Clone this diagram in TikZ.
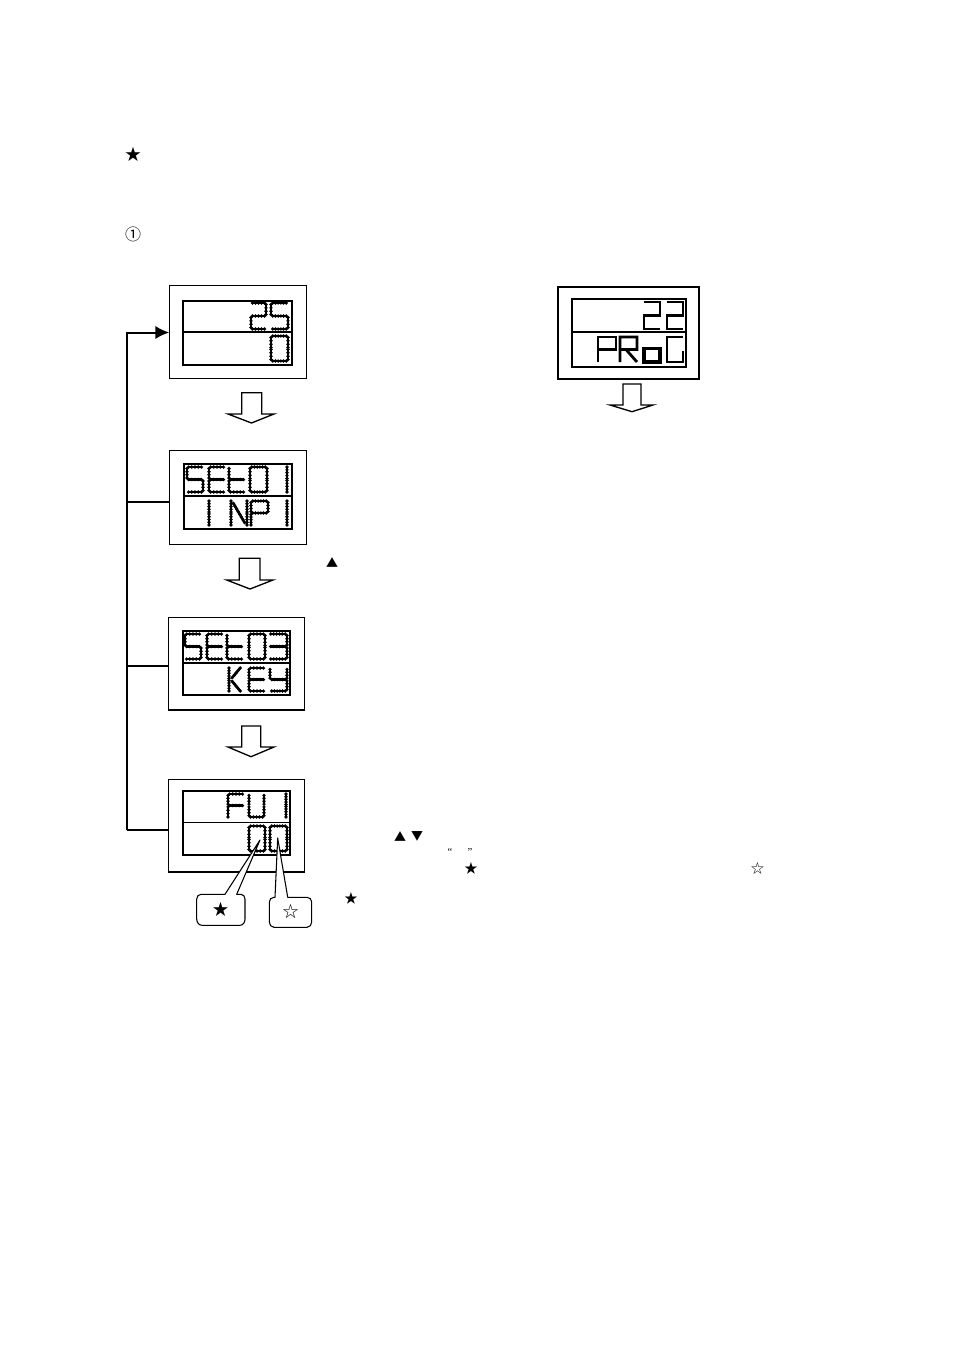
\documentclass[tikz,border=0pt]{standalone}
\usepackage{fontspec}
\setmainfont{DejaVu Sans}
\newfontfamily\quotefont{Liberation Serif}
\newfontfamily\cjk{Noto Sans CJK SC}
\usetikzlibrary{fit,arrows.meta}
\tikzset{
  outerbox/.style={draw,rectangle,inner sep=0pt,outer sep=0pt,line width=0.8pt},
  lcdbox/.style={draw,rectangle,inner sep=0pt,outer sep=0pt,line width=1.5pt},
  divider/.style={line width=#1},
  segcore/.style={line width=1.9pt},
  solidseg/.style={line width=2.1pt,line join=miter},
  hollow/.style={draw,line width=1pt,fill=white,line join=miter},
  flow/.style={line width=1.5pt},
  flowthin/.style={line width=1.3pt},
  call/.style={draw,line width=0.8pt,line join=round},
  sym/.style={inner sep=0pt,outer sep=0pt,text=black,font=\cjk},
}
% dotted LCD glyph: x1 x2 y1 y2 list of fractional segments a/b/c/d
\newcommand\glyph[5]{%
  \foreach \a/\b/\c/\d in #5 {%
    \pgfmathsetmacro\xa{#1+(#2-#1)*\a}\pgfmathsetmacro\ya{#3+(#4-#3)*\b}%
    \pgfmathsetmacro\xb{#1+(#2-#1)*\c}\pgfmathsetmacro\yb{#3+(#4-#3)*\d}%
    \pgfmathsetmacro\seglen{veclen(\xb-\xa,\yb-\ya)}%
    \pgfmathtruncatemacro\nd{max(1,round(\seglen/3))}%
    \draw[segcore] (\xa,\ya) -- (\xb,\yb);
    \foreach \k in {0,...,\nd} {%
      \pgfmathsetmacro\xp{\xa+(\xb-\xa)*\k/\nd}\pgfmathsetmacro\yp{\ya+(\yb-\ya)*\k/\nd}%
      \fill (\xp,\yp) circle[radius=1.85];
    }%
  }}
\newcommand\sglyph[6]{%
  \pgfmathsetmacro\gw{(#2-#1)*0.75}\pgfmathsetmacro\gh{(#4-#3)*0.75}%
  \begin{scope}[shift={(#1,#3)},x=\gw pt,y=-\gh pt]\draw[#5] #6;\end{scope}}
\newcommand\gZero{.1/0/.9/0,1/.06/1/.46,1/.54/1/.94,.9/1/.1/1,0/.94/0/.54,0/.46/0/.06}
\newcommand\gOne{1/0/1/.46,1/.54/1/1}
\newcommand\gTwo{.1/0/.9/0,1/.06/1/.44,.9/.5/.1/.5,0/.56/0/.94,.1/1/.9/1}
\newcommand\gThree{.1/0/.9/0,1/.06/1/.44,1/.56/1/.94,.9/1/.1/1,.1/.5/.9/.5}
\newcommand\gFive{.9/0/.1/0,0/.06/0/.44,.1/.5/.9/.5,1/.56/1/.94,.9/1/.1/1}
\newcommand\gE{.9/0/.1/0,0/.06/0/.44,0/.56/0/.94,.1/1/.9/1,.1/.5/.9/.5}
\newcommand\gT{0/.06/0/.44,0/.56/0/.94,.1/1/.9/1,.1/.5/.9/.5}
\newcommand\gN{0/1/0/.54,0/.46/0/0,.15/.1/.85/.9,1/1/1/.54,1/.46/1/0}
\newcommand\gP{0/1/0/.56,0/.44/0/.06,.1/0/.9/0,1/.06/1/.44,.9/.5/.1/.5}
\newcommand\gK{0/0/0/.46,0/.54/0/1,.2/.42/.7/0,.2/.58/.7/1}
\newcommand\gY{0/.06/0/.44,.1/.5/.9/.5,1/.06/1/.44,1/.56/1/.94,.9/1/.1/1}
\newcommand\gF{.9/0/.1/0,0/.06/0/.44,0/.56/0/1,.1/.5/.9/.5}
\newcommand\gU{0/.06/0/.44,0/.56/0/.94,.1/1/.9/1,1/.94/1/.56,1/.44/1/.06}
\newcommand\gO{(0,.45)--(1,.45)--(1,1)--(0,1)--cycle}
\newcommand\gR{(0,1)--(0,0)--(1,0)--(1,.5)--(0,.5) (.35,.5)--(1,1)}
\newcommand\gG{(1,0)--(0,0)--(0,1)--(1,1)--(1,.55)}
\newcommand\gTwoS{(0,0)--(1,0)--(1,.5)--(0,.5)--(0,1)--(1,1)}
\newcommand\gPS{(0,1)--(0,0)--(1,0)--(1,.5)--(0,.5)}
\begin{document}
\begin{tikzpicture}[x=0.75pt,y=-0.75pt]
\useasboundingbox (0,0) rectangle (954,1350);
\fill[white] (0,0) rectangle (954,1350);

% outer and inner boxes
\node[outerbox,fit={(169.3,285.3)(306.7,378.3)}] (b1) {};
\node[lcdbox,fit={(183.3,300.7)(291.7,365)}] (l1) {};
\node[outerbox,fit={(169.3,450.7)(306.7,544.3)}] (b2) {};
\node[lcdbox,fit={(183.5,464)(291.5,529)}] (l2) {};
\node[outerbox,fit={(168.3,617.3)(304.7,710)}] (b3) {};
\node[lcdbox,fit={(182.7,630.7)(290.3,695)}] (l3) {};
\node[outerbox,fit={(168.3,779.3)(304.7,872)}] (b4) {};
\node[lcdbox,fit={(182.7,790.7)(290.3,855)}] (l4) {};
\node[outerbox,line width=1.6pt,fit={(558.3,286.7)(699,379.3)}] (b5) {};
\node[lcdbox,fit={(572.3,299)(685.7,366.7)}] (l5) {};

% dividers
\coordinate (d1) at (183.3,332); \draw[divider=1.7pt] (l1.west|-d1) -- (l1.east|-d1);
\coordinate (d2) at (183.5,496); \draw[divider=0.8pt] (l2.west|-d2) -- (l2.east|-d2);
\coordinate (d3) at (182.7,662.7); \draw[divider=1.4pt] (l3.west|-d3) -- (l3.east|-d3);
\coordinate (d4) at (182.7,822.3); \draw[divider=0.8pt] (l4.west|-d4) -- (l4.east|-d4);
\coordinate (d5) at (572.3,332.3); \draw[divider=1.5pt] (l5.west|-d5) -- (l5.east|-d5);

% display 1
\glyph{251}{266}{303}{329}{\gTwo}
\glyph{271}{288}{303}{329}{\gFive}
\glyph{271}{288}{336}{361}{\gZero}
% display 2
\glyph{187}{203}{467}{492}{\gFive}
\glyph{209}{225}{467}{492}{\gE}
\glyph{229}{245}{467}{492}{\gT}
\glyph{250}{267}{467}{492}{\gZero}
\glyph{277}{287}{467}{492}{\gOne}
\glyph{199}{209}{501}{525}{\gOne}
\glyph{231}{247}{501}{525}{\gN}
\glyph{251}{268}{501}{525}{\gP}
\glyph{277}{287}{501}{525}{\gOne}
% display 3
\glyph{185}{201}{634}{659}{\gFive}
\glyph{207}{223}{634}{659}{\gE}
\glyph{227}{243}{634}{659}{\gT}
\glyph{249}{265}{634}{659}{\gZero}
\glyph{269}{287}{634}{659}{\gThree}
\glyph{229}{245}{668}{691}{\gK}
\glyph{249}{265}{668}{691}{\gE}
\glyph{270}{287}{668}{691}{\gY}
% display 4
\glyph{228}{244}{794}{817}{\gF}
\glyph{249}{264}{794}{817}{\gU}
\glyph{276}{286}{794}{817}{\gOne}
\glyph{249}{265}{826}{851}{\gZero}
\glyph{270}{287}{826}{851}{\gZero}
% display 5
\sglyph{644}{660}{302}{329}{solidseg}{\gTwoS}
\sglyph{667}{683}{302}{329}{solidseg}{\gTwoS}
\sglyph{598}{616}{337}{362}{solidseg}{\gPS}
\sglyph{620}{637}{337}{362}{solidseg}{\gR}
\sglyph{644}{660}{337}{362}{line width=2.6pt}{\gO}
\sglyph{667}{683}{337}{362}{solidseg}{\gG}

% hollow down arrows
\draw[hollow] (241.7,392.7)--(261.7,392.7)--(261.7,414)--(274,414)--(251.5,423)--(228,414)--(241.7,414)--cycle;
\draw[hollow] (239.3,558.3)--(260,558.3)--(260,580)--(273,580)--(250,589)--(226.7,580)--(239.3,580)--cycle;
\draw[hollow] (241.7,726)--(260.7,726)--(260.7,747)--(274,747)--(251,756.7)--(228,747)--(241.7,747)--cycle;
\draw[hollow] (623,384)--(641,384)--(641,405)--(653,405)--(632,411.7)--(610,405)--(623,405)--cycle;

% flow lines
\coordinate (tTop) at (126.5,332.5);
\coordinate (tBot) at (126.5,830);
\draw[flow,-{Latex[length=10.5pt,width=10pt,sharp]}] (tBot) -- (tTop) -- (b1.west|-tTop);
\draw[flow] (tBot) -- (b4.west|-tBot);
\coordinate (t2) at (126.5,501.7); \draw[flowthin] (t2) -- (b2.west|-t2);
\coordinate (t3) at (126.5,665.7); \draw[flowthin] (t3) -- (b3.west|-t3);

% callouts
\coordinate (p1) at (260,840);
\coordinate (p2) at (277.7,838);
\draw[call,fill=white] (225,894.3) -- (p1) -- (236.7,894.3)
  -- (241,894.3) to[out=0,in=90] (245,899) -- (245,919) to[out=-90,in=0] (240,925.3)
  -- (202,925.3) to[out=180,in=-90] (196.7,919) -- (196.7,899) to[out=90,in=180] (201,894.3) -- cycle;
\draw[call,fill=white] (275,897.3) -- (p2) -- (287.7,897.3)
  -- (307,897.3) to[out=0,in=90] (311.7,902) -- (311.7,922) to[out=-90,in=0] (307,927.3)
  -- (274,927.3) to[out=180,in=-90] (269.3,922) -- (269.3,902) to[out=90,in=180] (274,897.3) -- cycle;
\node[sym,font=\cjk\fontsize{12pt}{12pt}\selectfont] (cs1) at (220.5,909.5) {★};
\node[sym,font=\cjk\fontsize{12pt}{12pt}\selectfont] (cs2) at (290.5,911.5) {☆};

% residual symbols
\node[sym,font=\cjk\fontsize{12pt}{12pt}\selectfont] (s1) at (133,154) {★};
\node[sym,font=\cjk\fontsize{12pt}{12pt}\selectfont] (s2) at (133,234) {①};
\node[sym,font=\cjk\fontsize{9pt}{9pt}\selectfont] (s3) at (332,563) {▲};
\node[sym,font=\cjk\fontsize{9pt}{9pt}\selectfont] (s4) at (400,836.5) {▲};
\node[sym,font=\cjk\fontsize{9pt}{9pt}\selectfont] (s5) at (417,836.5) {▼};
\node[sym,font=\quotefont\fontsize{8pt}{8pt}\selectfont] (s6) at (450,852) {“};
\node[sym,font=\quotefont\fontsize{8pt}{8pt}\selectfont] (s7) at (470,852) {”};
\node[sym,font=\cjk\fontsize{10pt}{10pt}\selectfont] (s8) at (471,868) {★};
\node[sym,font=\cjk\fontsize{10pt}{10pt}\selectfont] (s9) at (757.5,868) {☆};
\node[sym,font=\cjk\fontsize{10pt}{10pt}\selectfont] (s10) at (351,898) {★};
\end{tikzpicture}
\end{document}
